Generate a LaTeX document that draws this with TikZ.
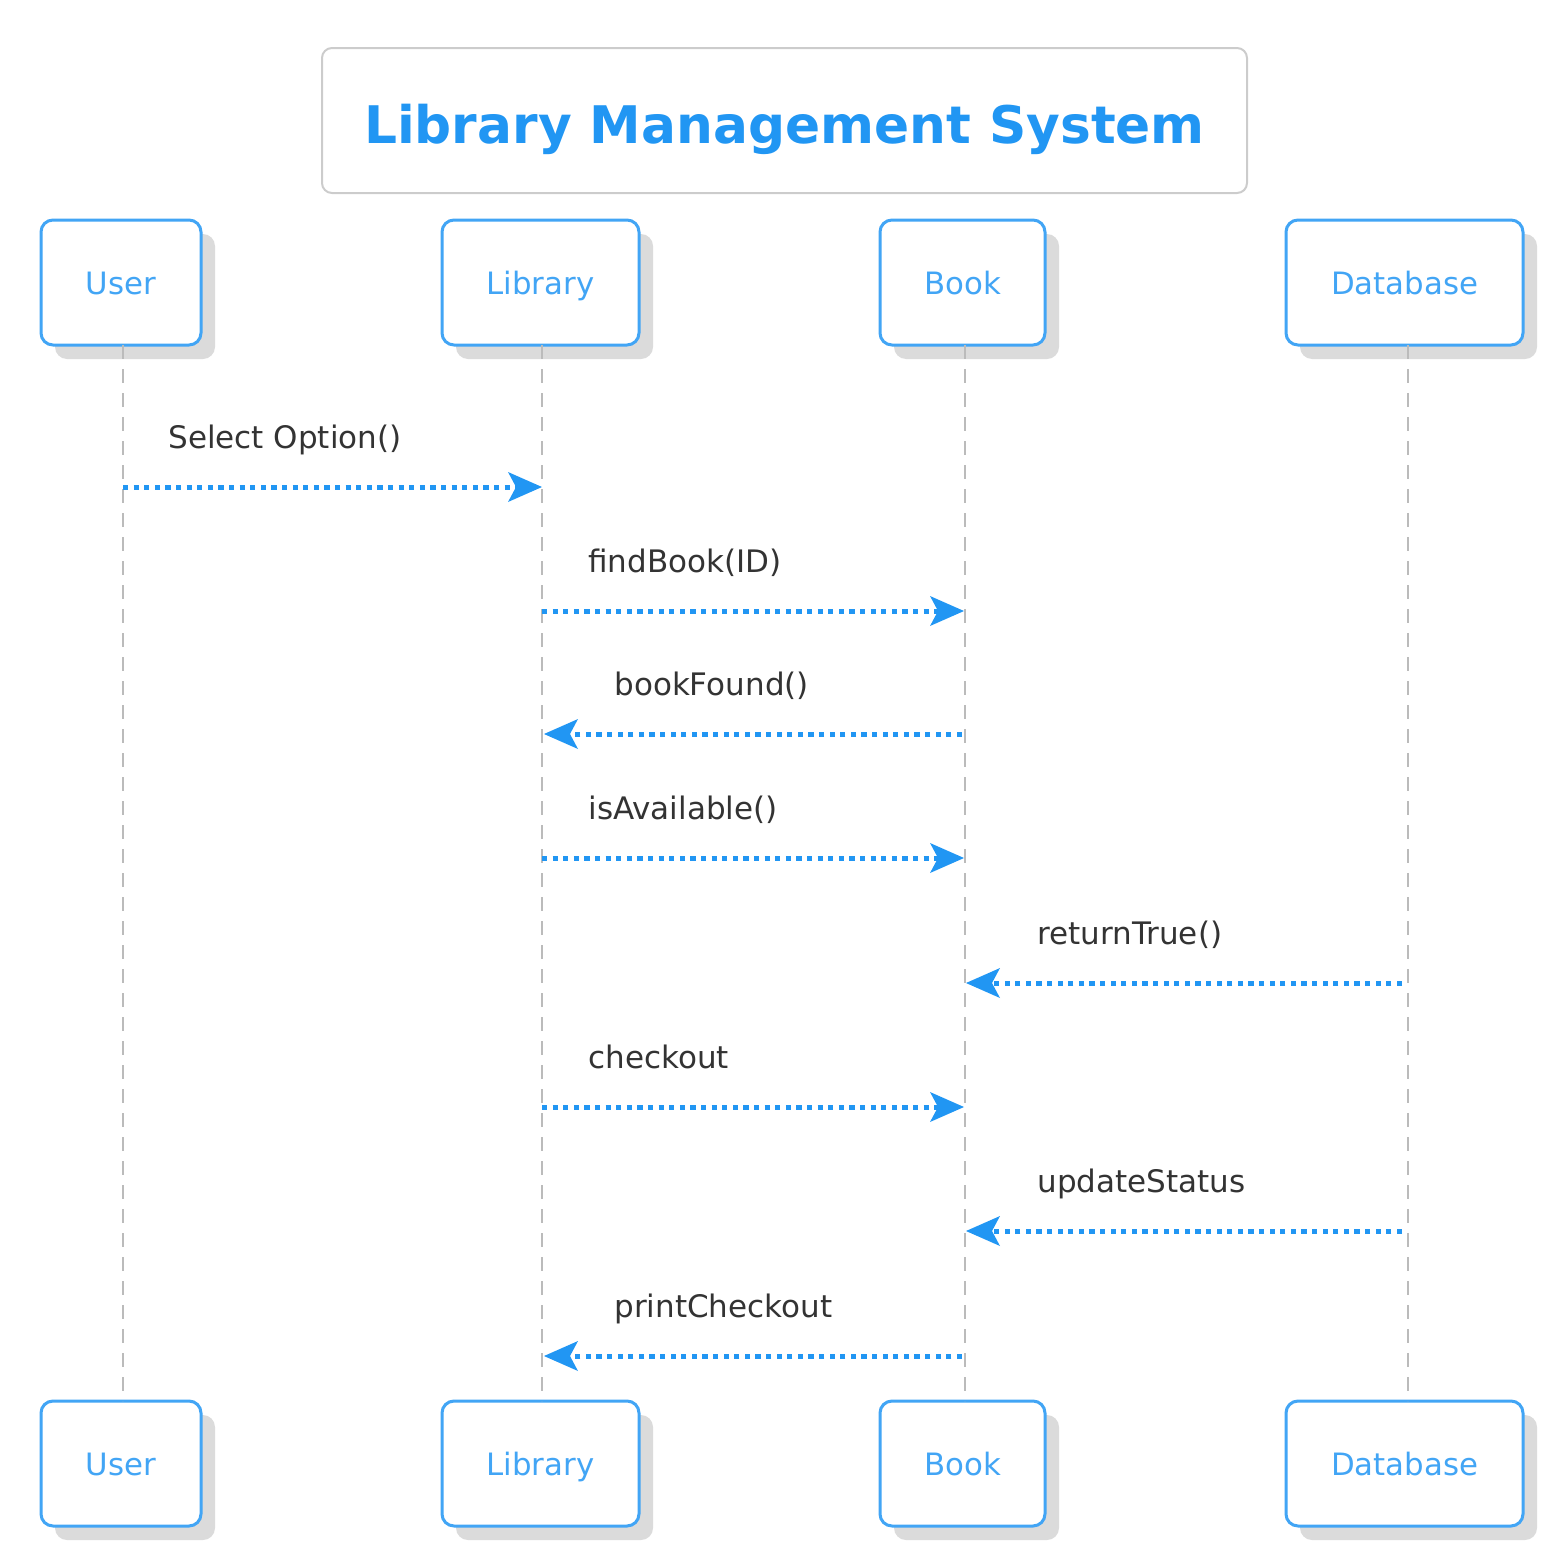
\documentclass[tikz,border=0pt]{standalone}
\usepackage{fontspec}
\setmainfont{DejaVu Sans}
\usetikzlibrary{arrows.meta,shadows}
\definecolor{mblue}{HTML}{2196F3}
\definecolor{pblue}{HTML}{42A5F5}
\definecolor{ltext}{HTML}{333333}
\definecolor{lgray}{HTML}{BBBBBB}
\tikzset{
  part/.style={draw=pblue, line width=1.5pt, rounded corners=6pt, fill=white,
    text=pblue, font=\fontsize{15.4}{18}\selectfont, minimum height=62.5pt, inner sep=0pt,
    text height=11.5pt, text depth=0pt,
    drop shadow={shadow xshift=7pt, shadow yshift=-7pt, fill=black!14, opacity=1}},
  life/.style={draw=lgray, line width=1pt, dash pattern=on 7pt off 5pt},
  msg/.style={draw=mblue, line width=2.5pt, dash pattern=on 2.6pt off 2.7pt,
    -{Stealth[length=17pt, width=15pt, inset=4pt, line width=0pt]}},
  lbl/.style={text=ltext, font=\fontsize{15.5}{18}\selectfont, anchor=base west, inner sep=0pt},
}
\begin{document}
\begin{tikzpicture}[x=0.5pt, y=-0.5pt]
\useasboundingbox (0,0) rectangle (1563,1563);
% title
\node[draw=black!20, line width=1pt, rounded corners=5pt, minimum width=462.5pt, minimum height=72.5pt,
  inner sep=0pt, text height=26.5pt, text depth=4pt,
  text=mblue, font=\fontsize{25.9}{30}\selectfont\bfseries] (title) at (784.5,120.5) {Library Management System};
% participants
\node[part, minimum width=80pt]   (u1) at (121,282.5)  {User};
\node[part, minimum width=98.5pt] (l1) at (540.5,282.5) {Library};
\node[part, minimum width=82.5pt] (b1) at (962.5,282.5) {Book};
\node[part, minimum width=118.5pt](d1) at (1404.5,282.5){Database};
\node[part, minimum width=80pt]   (u2) at (121,1463.5)  {User};
\node[part, minimum width=98.5pt] (l2) at (540.5,1463.5) {Library};
\node[part, minimum width=82.5pt] (b2) at (962.5,1463.5) {Book};
\node[part, minimum width=118.5pt](d2) at (1404.5,1463.5){Database};
% lifelines
\coordinate (uT) at (123,345); \coordinate (uB) at (123,1401);
\coordinate (lT) at (542,345); \coordinate (lB) at (542,1401);
\coordinate (bT) at (965,345); \coordinate (bB) at (965,1401);
\coordinate (dT) at (1408,345); \coordinate (dB) at (1408,1401);
\draw[life] (uT) -- (uB);
\draw[life] (lT) -- (lB);
\draw[life] (bT) -- (bB);
\draw[life] (dT) -- (dB);
% message end points
\coordinate (m1s) at (123,487);  \coordinate (m1e) at (542,487);
\coordinate (m2s) at (542,611);  \coordinate (m2e) at (964,611);
\coordinate (m3s) at (962,734);  \coordinate (m3e) at (544,734);
\coordinate (m4s) at (542,858);  \coordinate (m4e) at (964,858);
\coordinate (m5s) at (1402,983); \coordinate (m5e) at (966,983);
\coordinate (m6s) at (542,1107); \coordinate (m6e) at (964,1107);
\coordinate (m7s) at (1402,1231);\coordinate (m7e) at (966,1231);
\coordinate (m8s) at (962,1356); \coordinate (m8e) at (544,1356);
\draw[msg] (m1s) -- (m1e);
\draw[msg] (m2s) -- (m2e);
\draw[msg] (m3s) -- (m3e);
\draw[msg] (m4s) -- (m4e);
\draw[msg] (m5s) -- (m5e);
\draw[msg] (m6s) -- (m6e);
\draw[msg] (m7s) -- (m7e);
\draw[msg] (m8s) -- (m8e);
% labels
\node[lbl] (t1) at (168,448)  {Select Option()};
\node[lbl] (t2) at (588,572)  {findBook(ID)};
\node[lbl] (t3) at (614,695)  {bookFound()};
\node[lbl] (t4) at (588,819)  {isAvailable()};
\node[lbl] (t5) at (1037,944) {returnTrue()};
\node[lbl] (t6) at (588,1068) {checkout};
\node[lbl] (t7) at (1037,1192){updateStatus};
\node[lbl] (t8) at (614,1317) {printCheckout};
\end{tikzpicture}
\end{document}
